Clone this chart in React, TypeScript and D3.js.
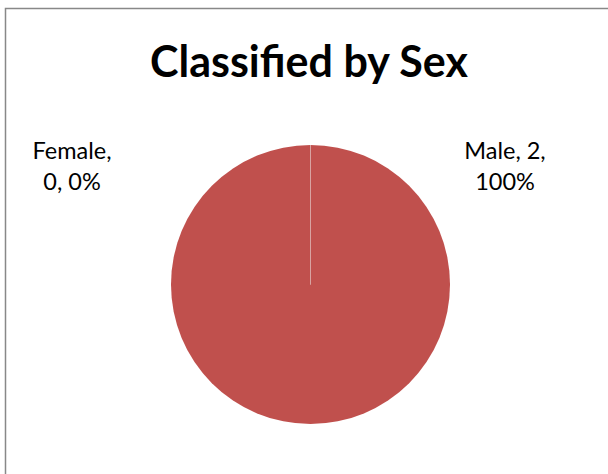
import React from "react";
import * as d3 from "d3";

const categories = ["Female", "Male"];
const values = [0, 2];
const percents = ["0%", "100%"];
const title = "Classified by Sex";

const W = 608;
const H = 474;

export default function App() {
  const cx = 310.5;
  const cy = 284.5;
  const r = 139.5;
  const pie = d3.pie<number>().sort(null).value((d) => d)(values);
  const arc = d3.arc<d3.PieArcDatum<number>>().innerRadius(0).outerRadius(r);
  const font = "Lato, 'Open Sans', sans-serif";
  const labelPos = [
    { x: 72, y: 159 },
    { x: 505, y: 159 },
  ];
  return (
    <svg
      width={W}
      height={H}
      style={{ position: "absolute", left: 0, top: 0 }}
    >
      <rect x={0} y={0} width={W} height={H} fill="#fff" />
      <rect
        x={5.5}
        y={8.5}
        width={W + 10}
        height={H + 10}
        fill="#fff"
        stroke="#888"
        strokeWidth={1.5}
      />
      <text
        x={309}
        y={77}
        textAnchor="middle"
        fontFamily={font}
        fontWeight="bold"
        fontSize={43}
        fill="#000"
      >
        {title}
      </text>
      <g transform={`translate(${cx},${cy})`}>
        {pie.map((p, i) =>
          i === 1 ? (
            <path key={i} d={arc(p) || ""} fill="#C0504D" />
          ) : null
        )}
        {pie.map((p, i) =>
          i === 0 ? (
            <path
              key={i}
              d={arc(p) || ""}
              fill="none"
              stroke="#d8a3a1"
              strokeWidth={1}
            />
          ) : null
        )}
      </g>
      {pie.map((p, i) => {
        const lines =
          i === 0
            ? [`${categories[i]},`, `${values[i]}, ${percents[i]}`]
            : [`${categories[i]}, ${values[i]},`, `${percents[i]}`];
        return (
          <text
            key={i}
            x={labelPos[i].x}
            y={labelPos[i].y}
            textAnchor="middle"
            fontFamily={font}
            fontSize={23.5}
            fill="#000"
          >
            {lines.map((l, j) => (
              <tspan key={j} x={labelPos[i].x} dy={j === 0 ? 0 : 31}>
                {l}
              </tspan>
            ))}
          </text>
        );
      })}
    </svg>
  );
}
